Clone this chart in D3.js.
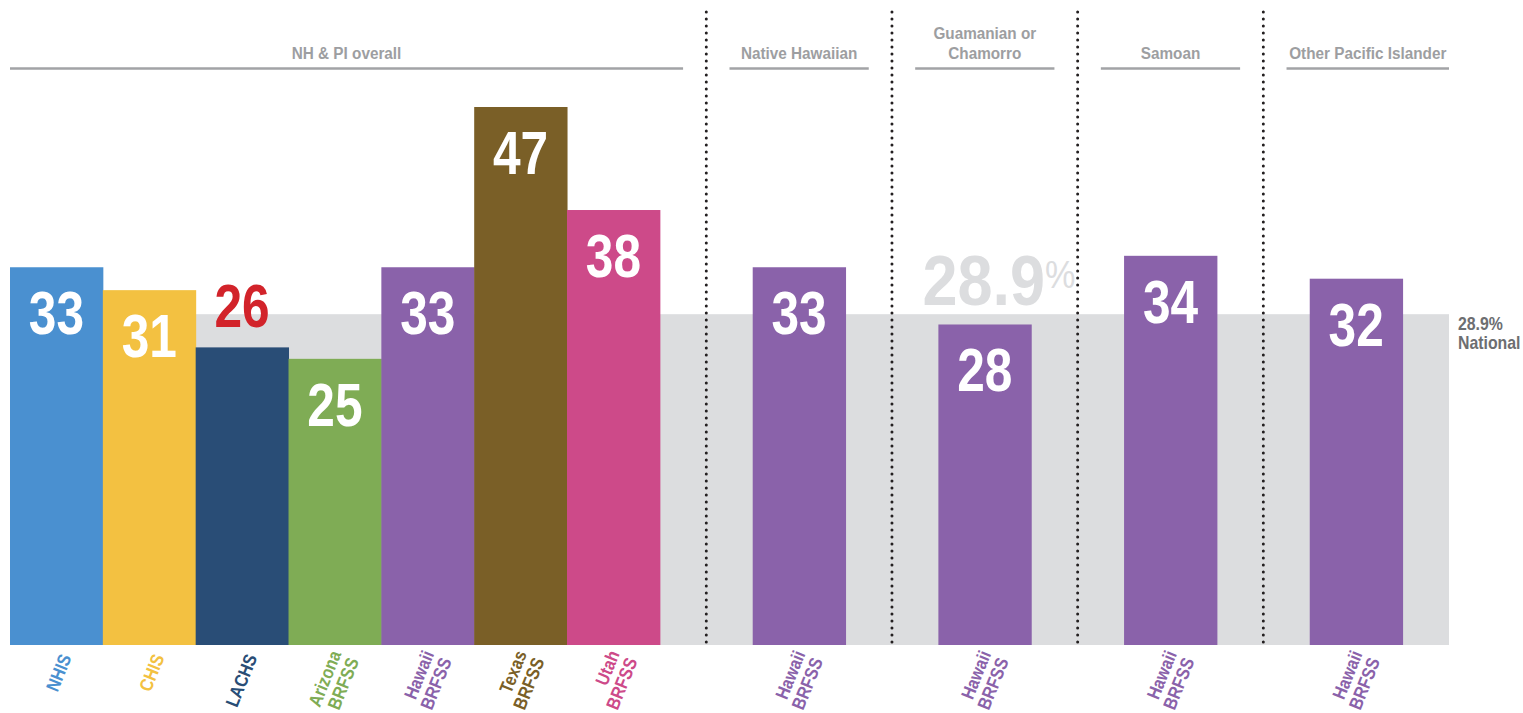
<!DOCTYPE html>
<html>
<head>
<meta charset="utf-8">
<script src="https://cdn.jsdelivr.net/npm/d3@7"></script>
<style>
  html, body { margin: 0; padding: 0; background: #ffffff; }
  svg { display: block; }
  text { font-family: "Liberation Sans", Arial, sans-serif; font-weight: bold; }
</style>
</head>
<body>
<script>
// ---------------- DATA ----------------
const categories = ["NHIS", "CHIS", "LACHS", "Arizona BRFSS", "Hawaii BRFSS", "Texas BRFSS", "Utah BRFSS",
                    "Hawaii BRFSS", "Hawaii BRFSS", "Hawaii BRFSS", "Hawaii BRFSS"];
const categoryGroups = ["NH & PI overall", "NH & PI overall", "NH & PI overall", "NH & PI overall",
                        "NH & PI overall", "NH & PI overall", "NH & PI overall",
                        "Native Hawaiian", "Guamanian or Chamorro", "Samoan", "Other Pacific Islander"];
const values = [33, 31, 26, 25, 33, 47, 38, 33, 28, 34, 32];
const groups = ["NH & PI overall", "Native Hawaiian", "Guamanian or Chamorro", "Samoan", "Other Pacific Islander"];
const groupLabelLines = [["NH & PI overall"], ["Native Hawaiian"], ["Guamanian or", "Chamorro"], ["Samoan"], ["Other Pacific Islander"]];
const nationalValue = 28.9;
const nationalLabel = ["28.9%", "National"];

// ---------------- STYLE ----------------
const barColors = ["#4a90d0", "#f3c141", "#294d76", "#7fac55", "#8a62aa", "#7a5f27", "#cd4a89",
                   "#8a62aa", "#8a62aa", "#8a62aa", "#8a62aa"];
const labelAboveCats = ["LACHS"];
const labelAboveColor = "#d2232a";
const bandColor = "#dcdddf";
const headerGray = "#9d9ea1";
const headerLineGray = "#a2a3a6";
const nationalGray = "#6d6e71";

const W = 1523, H = 713;
const svg = d3.select("body").append("svg").attr("width", W).attr("height", H);

// slot layout: bars consecutive within a group, one empty slot between groups
const bars = [];
let slot = 0;
categories.forEach((c, i) => {
  if (i > 0 && categoryGroups[i] !== categoryGroups[i - 1]) slot += 1;
  bars.push({ cat: c, group: categoryGroups[i], value: values[i], color: barColors[i], slot: slot, idx: i });
  slot += 1;
});
const totalSlots = slot + 0.5;

const x = d3.scaleLinear().domain([0, totalSlots]).range([10, 1449]);
const y = d3.scaleLinear().domain([0, 47]).range([645, 107]);
const bw = x(1) - x(0);

// national band
svg.append("rect")
  .attr("x", x(0)).attr("width", x(totalSlots) - x(0))
  .attr("y", y(nationalValue)).attr("height", y(0) - y(nationalValue))
  .attr("fill", bandColor);

// bars
svg.append("g").selectAll("rect").data(bars).join("rect")
  .attr("x", d => x(d.slot)).attr("width", bw + 0.5)
  .attr("y", d => y(d.value)).attr("height", d => y(0) - y(d.value))
  .attr("fill", d => d.color);

// helper for condensed text
function ctext(parent, tx, ty, str, size, sx, fill, anchor) {
  return parent.append("text")
    .attr("transform", `translate(${tx},${ty}) scale(${sx},1)`)
    .attr("text-anchor", anchor || "middle")
    .attr("font-size", size).attr("fill", fill)
    .text(str);
}

// value labels
bars.forEach(d => {
  const cx = x(d.slot) + bw / 2;
  const above = labelAboveCats.includes(d.cat);
  const ty = above ? y(d.value) - 20 : y(d.value) + 67;
  ctext(svg, cx, ty, d3.format("d")(d.value), 62, 0.8, above ? labelAboveColor : "#ffffff");
});

// group separators (dotted)
const groupSlots = groups.map(g => bars.filter(b => b.group === g).map(b => b.slot));
for (let i = 1; i < groups.length; i++) {
  const sx = x(groupSlots[i][0] - 0.5);
  svg.append("line")
    .attr("x1", sx).attr("x2", sx).attr("y1", 12).attr("y2", 645)
    .attr("stroke", "#231f20").attr("stroke-width", 3)
    .attr("stroke-linecap", "round").attr("stroke-dasharray", "0,7");
}

// group headers
groups.forEach((g, i) => {
  const s = groupSlots[i];
  const first = s[0], last = s[s.length - 1];
  const x1 = x(Math.max(0, first - 0.25));
  const x2 = (i === groups.length - 1) ? x(totalSlots) : x(Math.min(totalSlots, last + 1.25));
  svg.append("line").attr("x1", x1).attr("x2", x2).attr("y1", 68.5).attr("y2", 68.5)
    .attr("stroke", headerLineGray).attr("stroke-width", 2.6);
  const lines = groupLabelLines[i];
  const cx = (x1 + x2) / 2;
  lines.forEach((ln, j) => {
    ctext(svg, cx, 59 - (lines.length - 1 - j) * 20, ln, 17, 0.9, headerGray);
  });
});

// big national value label in Guamanian column
{
  const gi = groups.indexOf("Guamanian or Chamorro");
  const cx = x(groupSlots[gi][0]) + bw / 2;
  const t = svg.append("text")
    .attr("text-anchor", "start")
    .attr("font-size", 70).attr("fill", bandColor);
  t.append("tspan").text("28.9");
  t.append("tspan").attr("font-size", 38).attr("dy", -17).attr("font-weight", "normal").text("%");
  const w = t.node().firstChild.getComputedTextLength() * 0.9;
  t.attr("transform", `translate(${cx - w / 2 - 1},${y(nationalValue) - 9}) scale(0.9,1)`);
}

// national label on the right
nationalLabel.forEach((ln, j) => {
  ctext(svg, 1458, 330 + j * 19, ln, 18, 0.88, nationalGray, "start");
});

// rotated x labels
bars.forEach(d => {
  const cx = x(d.slot) + bw / 2;
  const parts = d.cat.split(" ");
  const g = svg.append("g").attr("transform", `translate(${cx + 10},652) rotate(-68)`);
  parts.forEach((p, j) => {
    const ly = (j - (parts.length - 1) / 2) * 19 + 7;
    g.append("text")
      .attr("transform", `translate(-3,${ly}) scale(0.86,1)`)
      .attr("text-anchor", "end")
      .attr("font-size", 18.5).attr("fill", d.color)
      .text(p);
  });
});
</script>
</body>
</html>
